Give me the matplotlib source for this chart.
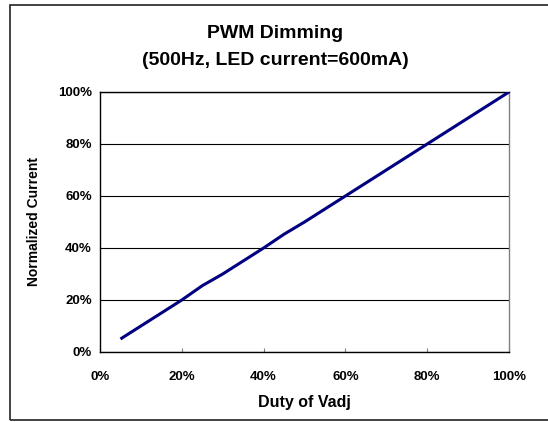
import numpy as np
import matplotlib
matplotlib.use("Agg")
import matplotlib.pyplot as plt
import matplotlib.patches as patches
from matplotlib.ticker import PercentFormatter

plt.rcParams['font.family'] = ['Liberation Sans', 'DejaVu Sans']
plt.rcParams['font.weight'] = 'bold'

# duty cycle (%) vs normalized current (%)
duty = [5, 10, 15, 20, 25, 30, 35, 40, 45, 50, 55, 60, 65, 70, 75, 80, 85, 90, 95, 100]
current = [5, 10, 15, 20, 25.5, 30, 35, 40, 45.3, 50, 55, 60, 65, 70, 75, 80, 85, 90, 95, 100]

title = "PWM Dimming\n(500Hz, LED current=600mA)"
xlabel = "Duty of Vadj"
ylabel = "Normalized Current"
ticks = [0, 20, 40, 60, 80, 100]

W, H = 548, 422
fig = plt.figure(figsize=(W / 100, H / 100), dpi=100)
ax = fig.add_axes([100 / W, 1 - 352 / H, 409 / W, 260 / H])

ax.plot(duty, current, color='#000080', lw=2.2, solid_capstyle='butt', zorder=3)

ax.set_xlim(0, 100)
ax.set_ylim(0, 100)
ax.set_xticks(ticks)
ax.set_yticks(ticks)
ax.xaxis.set_major_formatter(PercentFormatter(decimals=0))
ax.yaxis.set_major_formatter(PercentFormatter(decimals=0))
ax.tick_params(axis='x', direction='in', length=3, color='#808080', width=0.8,
               labelsize=9.5, pad=14)
ax.tick_params(axis='y', length=0, labelsize=9.5, pad=6)

ax.yaxis.grid(True, color='black', lw=0.8)
ax.set_axisbelow(True)

for s in ['left', 'bottom', 'top']:
    ax.spines[s].set_color('black')
    ax.spines[s].set_linewidth(1.0)
ax.spines['right'].set_color('#808080')
ax.spines['right'].set_linewidth(1.0)

ax.set_xlabel(xlabel, fontsize=11.5, fontweight='bold', labelpad=8)
ax.set_ylabel(ylabel, fontsize=10, fontweight='bold', labelpad=12)

fig.text(0.502, 1 - 47 / H, title, ha='center', va='center', fontsize=14,
         fontweight='bold', linespacing=1.75)

# outer chart border
fig.patches.append(patches.Rectangle((10 / W, 2 / H), 1.0, 415 / H,
                                     transform=fig.transFigure, fill=False,
                                     edgecolor='#222222', lw=1.2))

fig.savefig("out.png", dpi=100)
